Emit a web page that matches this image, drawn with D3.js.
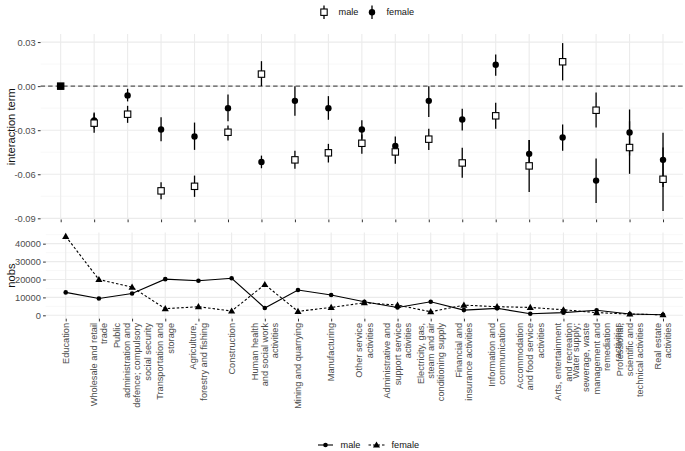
<!DOCTYPE html>
<html><head><meta charset="utf-8">
<script src="https://cdn.jsdelivr.net/npm/d3@7"></script>
<style>body{margin:0;background:#fff} svg{display:block} text{font-family:"Liberation Sans",Arial,sans-serif}</style>
</head><body><svg id="c" width="685" height="451"></svg>
<script>
const categories = [
  "Education","Wholesale and retail\ntrade","Public\nadministration and\ndefence; compulsory\nsocial security",
  "Transportation and\nstorage","Agriculture,\nforestry and fishing","Construction",
  "Human health\nand social work\nactivities","Mining and quarrying","Manufacturing",
  "Other service\nactivities","Administrative and\nsupport service\nactivities",
  "Electricity, gas,\nsteam and air\nconditioning supply","Financial and\ninsurance activities",
  "Information and\ncommunication","Accommodation\nand food service\nactivities",
  "Arts, entertainment\nand recreation","Water supply;\nsewerage, waste\nmanagement and\nremediation\nactivities",
  "Professional,\nscientific and\ntechnical activities","Real estate\nactivities"
];
const maleEst = [0,-0.0252,-0.0191,-0.0713,-0.0682,-0.0314,0.0082,-0.0502,-0.0454,-0.0389,-0.0448,-0.0361,-0.0523,-0.0202,-0.0543,0.0166,-0.0164,-0.0418,-0.0634];
const maleLo  = [0,-0.0318,-0.0250,-0.0770,-0.0754,-0.0370,0.0000,-0.0563,-0.0520,-0.0461,-0.0529,-0.0434,-0.0623,-0.0290,-0.0720,0.0039,-0.0282,-0.0597,-0.0850];
const maleHi  = [0,-0.0186,-0.0134,-0.0654,-0.0609,-0.0268,0.0170,-0.0440,-0.0393,-0.0329,-0.0393,-0.0290,-0.0420,-0.0113,-0.0366,0.0293,-0.0043,-0.0239,-0.0418];
const femaleEst = [0,-0.0234,-0.0063,-0.0295,-0.0343,-0.0150,-0.0516,-0.0100,-0.0150,-0.0295,-0.0407,-0.0100,-0.0227,0.0146,-0.0461,-0.0350,-0.0643,-0.0316,-0.0502];
const femaleLo  = [0,-0.0288,-0.0104,-0.0375,-0.0434,-0.0239,-0.0559,-0.0202,-0.0229,-0.0359,-0.0466,-0.0210,-0.0302,0.0071,-0.0552,-0.0440,-0.0795,-0.0473,-0.0686];
const femaleHi  = [0,-0.0180,-0.0018,-0.0211,-0.0248,-0.0057,-0.0473,0.0000,-0.0068,-0.0232,-0.0343,0.0000,-0.0154,0.0216,-0.0366,-0.0261,-0.0493,-0.0159,-0.0318];
const maleNobs   = [12800,9400,12200,20200,19300,20700,4100,14100,11300,7600,4400,7600,2900,3900,900,1500,2800,700,300];
const femaleNobs = [44100,20000,15700,3700,4800,2400,17200,2200,4400,7000,5700,2000,5700,4800,4400,3100,1500,700,300];
const topTicks = [-0.09,-0.06,-0.03,0,0.03];
const topMinor = [-0.075,-0.045,-0.015,0.015];
const botTicks = [0,10000,20000,30000,40000];
const botMinor = [5000,15000,25000,35000,45000];
const seriesNames = ["male","female"];

const svg = d3.select("#c");
const gridMajor = "#ebebeb", gridMinor = "#f4f4f4", tickCol = "#333", labCol = "#4d4d4d";

// ---------- TOP PANEL ----------
const xT = d3.scalePoint().domain(categories).range([40.6, 683.1]).padding(0.6);
const yT = d3.scaleLinear().domain([-0.0908, 0.0355]).range([219.5, 34]);
const gT = svg.append("g");
gT.selectAll(".mn").data(topMinor).join("line")
  .attr("x1", 40.6).attr("x2", 683.1).attr("y1", d=>yT(d)).attr("y2", d=>yT(d))
  .attr("stroke", gridMinor).attr("stroke-width", 0.6);
gT.selectAll(".mj").data(topTicks).join("line")
  .attr("x1", 40.6).attr("x2", 683.1).attr("y1", d=>yT(d)).attr("y2", d=>yT(d))
  .attr("stroke", gridMajor).attr("stroke-width", 1.1);
gT.selectAll(".vg").data(categories).join("line")
  .attr("x1", d=>xT(d)).attr("x2", d=>xT(d)).attr("y1", 34).attr("y2", 219.5)
  .attr("stroke", gridMajor).attr("stroke-width", 1.1);
gT.append("line").attr("x1", 40.6).attr("x2", 683.1).attr("y1", yT(0)).attr("y2", yT(0))
  .attr("stroke", "#555").attr("stroke-width", 1.1).attr("stroke-dasharray", "4.5,3");

const yAxT = d3.axisLeft(yT).tickValues(topTicks).tickSize(2.75).tickPadding(2.2).tickFormat(d=>d.toFixed(2));
const ayT = svg.append("g").attr("transform", "translate(40.6,0)").call(yAxT);
const xAxT = d3.axisBottom(xT).tickSize(2.75).tickFormat("");
const axT = svg.append("g").attr("transform", "translate(0,219.5)").call(xAxT);

// error bars
const idx = d3.range(categories.length);
gT.selectAll(".fe").data(idx.filter(i=>femaleLo[i]!==femaleHi[i])).join("line")
  .attr("x1", i=>xT(categories[i])).attr("x2", i=>xT(categories[i]))
  .attr("y1", i=>yT(femaleLo[i])).attr("y2", i=>yT(femaleHi[i]))
  .attr("stroke", "#000").attr("stroke-width", 1.3);
gT.selectAll(".me").data(idx.filter(i=>maleLo[i]!==maleHi[i])).join("line")
  .attr("x1", i=>xT(categories[i])).attr("x2", i=>xT(categories[i]))
  .attr("y1", i=>yT(maleLo[i])).attr("y2", i=>yT(maleHi[i]))
  .attr("stroke", "#000").attr("stroke-width", 1.3);
gT.selectAll(".fp").data(idx).join("circle")
  .attr("cx", i=>xT(categories[i])).attr("cy", i=>yT(femaleEst[i])).attr("r", 3.2).attr("fill", "#000");
gT.selectAll(".mp").data(idx).join("rect")
  .attr("x", i=>xT(categories[i])-3.2).attr("y", i=>yT(maleEst[i])-3.2)
  .attr("width", 6.4).attr("height", 6.4)
  .attr("fill", i=> maleLo[i]===maleHi[i] ? "#000" : "#fff").attr("stroke", "#000").attr("stroke-width", 1.1);

// ---------- BOTTOM PANEL ----------
const xB = d3.scalePoint().domain(categories).range([45.8, 682.9]).padding(0.6);
const yB = d3.scaleLinear().domain([-1890, 46290]).range([318.7, 232.4]);
const gB = svg.append("g");
gB.selectAll(".mn").data(botMinor).join("line")
  .attr("x1", 45.8).attr("x2", 682.9).attr("y1", d=>yB(d)).attr("y2", d=>yB(d))
  .attr("stroke", gridMinor).attr("stroke-width", 0.6);
gB.selectAll(".mj").data(botTicks).join("line")
  .attr("x1", 45.8).attr("x2", 682.9).attr("y1", d=>yB(d)).attr("y2", d=>yB(d))
  .attr("stroke", gridMajor).attr("stroke-width", 1.1);
gB.selectAll(".vg").data(categories).join("line")
  .attr("x1", d=>xB(d)).attr("x2", d=>xB(d)).attr("y1", 232.4).attr("y2", 318.7)
  .attr("stroke", gridMajor).attr("stroke-width", 1.1);

const yAxB = d3.axisLeft(yB).tickValues(botTicks).tickSize(2.75).tickPadding(2.2).tickFormat(d=>String(d));
const ayB = svg.append("g").attr("transform", "translate(45.8,0)").call(yAxB);
const xAxB = d3.axisBottom(xB).tickSize(2.75).tickFormat("");
const axB = svg.append("g").attr("transform", "translate(0,318.7)").call(xAxB);

const line = d3.line().x((d,i)=>xB(categories[i])).y(d=>yB(d));
gB.append("path").attr("d", line(maleNobs)).attr("fill","none").attr("stroke","#000").attr("stroke-width",1.1);
gB.append("path").attr("d", line(femaleNobs)).attr("fill","none").attr("stroke","#000").attr("stroke-width",1.1).attr("stroke-dasharray","2.5,2");
gB.selectAll(".mc").data(maleNobs).join("circle")
  .attr("cx",(d,i)=>xB(categories[i])).attr("cy", d=>yB(d)).attr("r", 2.3).attr("fill","#000");
const tri = d3.symbol().type(d3.symbolTriangle).size(22);
gB.selectAll(".ft").data(femaleNobs).join("path")
  .attr("d", tri).attr("transform",(d,i)=>`translate(${xB(categories[i])},${yB(d)+0.5})`).attr("fill","#000");

// style axes
[ayT, axT, ayB, axB].forEach(a=>{
  a.select(".domain").remove();
  a.selectAll(".tick line").attr("stroke", tickCol).attr("stroke-width", 1);
  a.selectAll(".tick text").attr("fill", labCol).attr("font-size", 9.3).attr("font-family", "Liberation Sans, Arial, sans-serif");
});

// category labels
const fs = 9.2, lh = 10.4;
const lab = svg.append("g");
categories.forEach(c=>{
  const lines = c.split("\n");
  const n = lines.length;
  const t = lab.append("text")
    .attr("transform", `translate(${xB(c)},323) rotate(-90)`)
    .attr("text-anchor", "end").attr("font-size", fs).attr("fill", labCol);
  const b0 = -(n-1)*lh/2 + 0.35*fs;
  lines.forEach((l,j)=>{
    t.append("tspan").attr("x", 0).attr("y", b0 + j*lh).text(l);
  });
});

// axis titles
svg.append("text").attr("transform", `translate(14.5,${(34+219.5)/2}) rotate(-90)`)
  .attr("text-anchor","middle").attr("font-size", 11.2).attr("fill","#111").text("interaction term");
svg.append("text").attr("transform", `translate(14.5,${(232.4+318.7)/2}) rotate(-90)`)
  .attr("text-anchor","middle").attr("font-size", 11.2).attr("fill","#111").text("nobs");

// top legend
const lgT = svg.append("g");
const lx = [324, 372];
lgT.selectAll(".lv").data(seriesNames).join("line")
  .attr("x1",(d,i)=>lx[i]).attr("x2",(d,i)=>lx[i]).attr("y1",5.5).attr("y2",19)
  .attr("stroke","#000").attr("stroke-width",1.3);
lgT.append("rect").attr("x", lx[0]-3.2).attr("y", 12.2-3.2).attr("width",6.4).attr("height",6.4)
  .attr("fill","#fff").attr("stroke","#000").attr("stroke-width",1.1);
lgT.append("circle").attr("cx", lx[1]).attr("cy", 12.2).attr("r", 3.2).attr("fill","#000");
lgT.selectAll(".lt").data(seriesNames).join("text")
  .attr("x",(d,i)=>lx[i]+14.5).attr("y",15.3).attr("font-size",9.2).attr("fill","#111").text(d=>d);

// bottom legend
const lgB = svg.append("g");
const bx = [325.5, 376.5];
lgB.append("line").attr("x1",bx[0]-7.5).attr("x2",bx[0]+7.5).attr("y1",445).attr("y2",445).attr("stroke","#000").attr("stroke-width",1.1);
lgB.append("line").attr("x1",bx[1]-8).attr("x2",bx[1]+8).attr("y1",445).attr("y2",445).attr("stroke","#000").attr("stroke-width",1.1).attr("stroke-dasharray","2.5,2");
lgB.append("circle").attr("cx",bx[0]).attr("cy",445).attr("r",2.3).attr("fill","#000");
lgB.append("path").attr("d", tri).attr("transform",`translate(${bx[1]},445.5)`).attr("fill","#000");
lgB.selectAll(".lt").data(seriesNames).join("text")
  .attr("x",(d,i)=>bx[i]+15).attr("y",448.2).attr("font-size",9.2).attr("fill","#111").text(d=>d);
</script></body></html>
